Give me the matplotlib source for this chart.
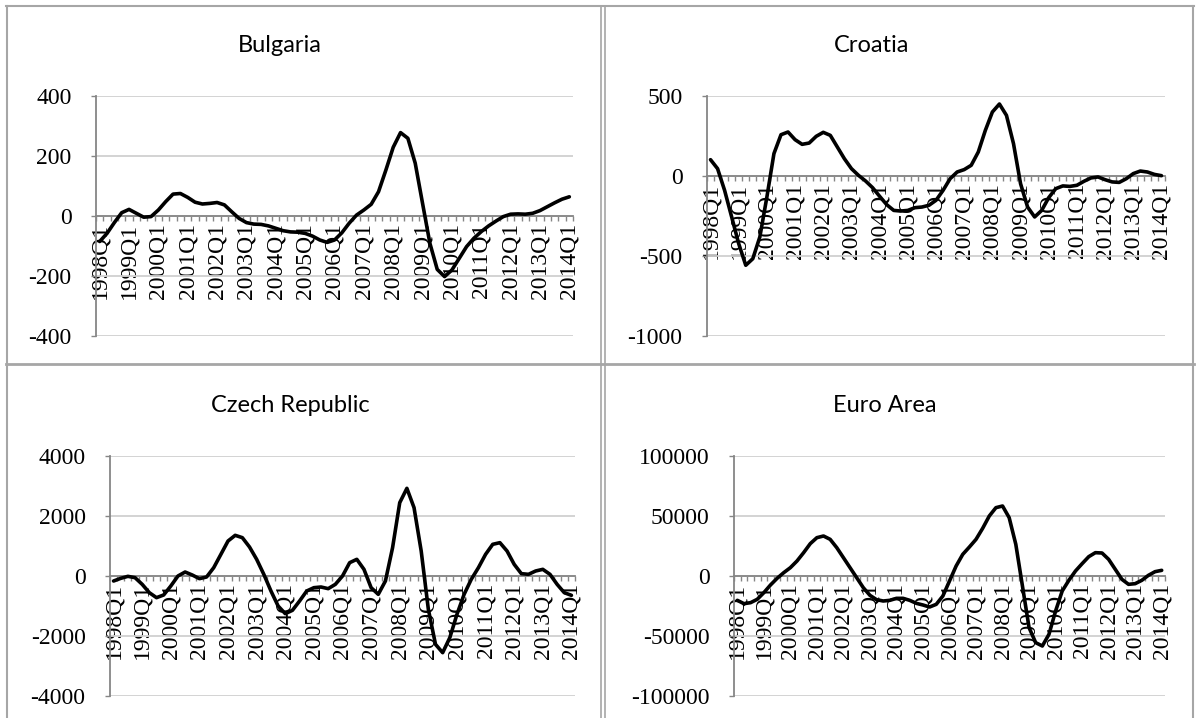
import matplotlib
matplotlib.use("Agg")
import matplotlib.pyplot as plt
import numpy as np
from matplotlib.lines import Line2D

plt.rcParams["axes.unicode_minus"] = False

# quarterly categories 1998Q1 .. 2014Q1
years = list(range(1998, 2015))
quarters = [f"{y}Q{q}" for y in years for q in range(1, 5)][:65]
tick_labels = [f"{y}Q1" for y in years]

bulgaria = [-85, -58, -22, 11, 22, 9, -4, -2, 20, 48, 73, 75, 62, 46, 40, 42,
            45, 37, 14, -8, -22, -27, -28, -33, -41, -49, -53, -54, -58, -67, -80, -88,
            -80, -56, -24, 3, 20, 39, 81, 153, 229, 278, 259, 176, 42, -91, -178, -202,
            -180, -141, -102, -74, -52, -33, -17, -2, 6, 7, 6, 9, 18, 31, 44, 56, 64]
croatia = [102, 46, -90, -256, -423, -558, -517, -381, -131, 140, 258, 275, 227, 198, 206, 248,
           273, 254, 181, 108, 46, 4, -31, -73, -127, -179, -215, -219, -215, -198, -194, -183,
           -152, -90, -17, 25, 40, 67, 150, 285, 400, 450, 379, 202, -48, -194, -256, -215,
           -135, -79, -62, -65, -58, -33, -12, -6, -23, -37, -40, -17, 15, 31, 25, 10, 2]
czech = [-167, -78, -11, -56, -278, -556, -722, -633, -333, 0, 133, 33, -89, -33, 278, 722,
         1167, 1356, 1278, 967, 556, 56, -500, -1000, -1256, -1144, -833, -500, -389, -367, -422, -278,
         0, 444, 556, 222, -389, -611, -167, 944, 2444, 2922, 2278, 833, -1111, -2278, -2556, -2056,
         -1278, -611, -111, 278, 722, 1056, 1111, 833, 389, 78, 56, 167, 222, 56, -278, -556, -644]
euro = [-20278, -23056, -22222, -19444, -13889, -7500, -1944, 2778, 6944, 12500, 19444, 26944,
        31944, 33333, 30556, 23611, 15278, 6944, -1389, -9722, -16111, -19722, -20833, -20278,
        -18611, -18611, -20278, -22778, -24167, -25833, -23611, -16667, -4167, 8333, 18056, 24167,
        30556, 39722, 50000, 56944, 58333, 48611, 26389, -8333, -43056, -55556, -58333, -48611,
        -29167, -12500, -3611, 4167, 10278, 16111, 19444, 19167, 13889, 5556, -2778, -6944,
        -6389, -3611, 556, 3611, 4722]

titles = ["Bulgaria", "Croatia", "Czech Republic", "Euro Area"]
series = [bulgaria, croatia, czech, euro]
y_ranges = [(-400, 400, 200), (-1000, 500, 500), (-4000, 4000, 2000), (-100000, 100000, 50000)]

W, H = 1197, 718
fig = plt.figure(figsize=(W / 100, H / 100), dpi=100)

# plot areas in pixels: x0, x1, y_top, y_bottom
boxes = [(96, 573, 96, 336), (707, 1165, 96, 336),
         (110, 575, 456, 696), (734, 1165, 456, 696)]
title_pos = [(280, 45), (872, 45), (290, 405), (885, 405)]

axis_grey = "#868686"
grid_grey = "#d0d0d0"
label_font = dict(family="Liberation Serif", size=17)

for vals, title, (lo, hi, step), (x0, x1, yt, yb), (tx, ty) in zip(
        series, titles, y_ranges, boxes, title_pos):
    ax = fig.add_axes([x0 / W, (H - yb) / H, (x1 - x0) / W, (yb - yt) / H])
    x = np.arange(len(vals))
    ax.plot(x, vals, color="black", lw=2.6, solid_joinstyle="round",
            solid_capstyle="round", zorder=3, clip_on=False)
    ax.set_xlim(-0.5, len(vals) - 0.5)
    ax.set_ylim(lo, hi)
    ax.set_yticks(np.arange(lo, hi + step, step))
    ax.yaxis.grid(True, color=grid_grey, lw=1.3)
    ax.set_axisbelow(True)

    for s in ["top", "right"]:
        ax.spines[s].set_visible(False)
    ax.spines["bottom"].set_position(("data", 0))
    ax.spines["bottom"].set_color(axis_grey)
    ax.spines["left"].set_color(axis_grey)
    ax.spines["bottom"].set_linewidth(1.3)
    ax.spines["left"].set_linewidth(1.3)

    ax.set_xticks(np.arange(0, len(vals), 4))
    ax.set_xticklabels(tick_labels, rotation=90, fontdict=label_font)
    ax.set_xticks(np.arange(-0.5, len(vals), 1), minor=True)
    ax.tick_params(axis="x", which="major", length=0, pad=5)
    ax.tick_params(axis="x", which="minor", length=3.6, color=axis_grey, width=1)
    ax.tick_params(axis="y", length=3.6, color=axis_grey, width=1, pad=14)
    for lab in ax.get_yticklabels():
        lab.set_fontfamily(label_font["family"])
        lab.set_fontsize(label_font["size"])

    fig.text(tx / W, 1 - ty / H, title, ha="center", va="center",
             fontfamily="Lato", fontsize=17)

# panel borders
border = "#a6a6a6"
def hline(y, xa, xb, lw=1.5):
    fig.add_artist(Line2D([xa / W, xb / W], [1 - y / H, 1 - y / H], color=border, lw=lw))

def vline(x, ya, yb, lw=1.5):
    fig.add_artist(Line2D([x / W, x / W], [1 - ya / H, 1 - yb / H], color=border, lw=lw))

hline(6, 6, 1194)
hline(364, 6, 1194, lw=2)
vline(7, 6, 718)
vline(601, 6, 718, lw=1.2)
vline(605, 6, 718, lw=1.2)
vline(1193, 6, 718)

fig.savefig("out.png", dpi=100)
